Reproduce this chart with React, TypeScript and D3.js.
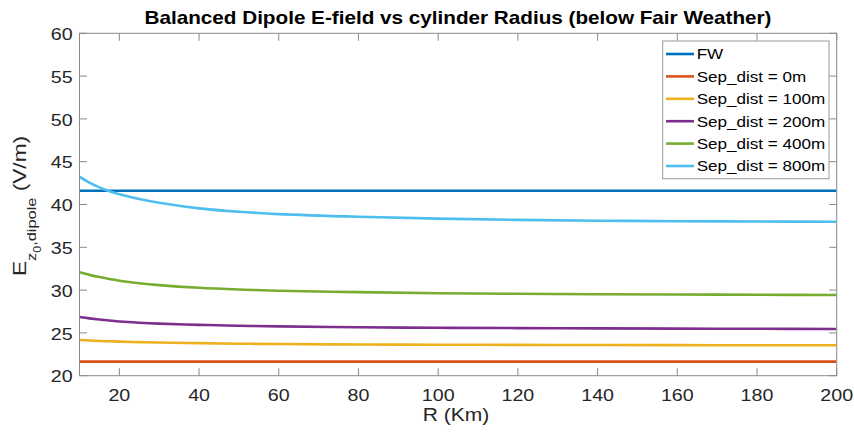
import React from "react";
import * as d3 from "d3";

const R = [10, 12.5, 15, 17.5, 20, 25, 30, 40, 50, 60, 80, 100, 120, 140, 160, 180, 200];
const fw = R.map(() => 41.6);
const sep0 = R.map(() => 21.64);
const sep100 = [24.17, 24.11, 24.06, 24.02, 23.98, 23.92, 23.87, 23.8, 23.74, 23.7, 23.65, 23.62, 23.6, 23.58, 23.57, 23.56, 23.55];
const sep200 = [26.86, 26.7, 26.56, 26.44, 26.34, 26.19, 26.08, 25.94, 25.84, 25.76, 25.66, 25.6, 25.56, 25.53, 25.5, 25.48, 25.46];
const sep400 = [32.08, 31.78, 31.52, 31.3, 31.1, 30.8, 30.58, 30.27, 30.07, 29.93, 29.76, 29.64, 29.57, 29.52, 29.49, 29.46, 29.43];
const sep800 = [43.25, 42.55, 42.0, 41.55, 41.2, 40.65, 40.2, 39.55, 39.15, 38.88, 38.57, 38.35, 38.2, 38.11, 38.05, 38.01, 37.98];

const seriesNames = ["FW", "Sep_dist = 0m", "Sep_dist = 100m", "Sep_dist = 200m", "Sep_dist = 400m", "Sep_dist = 800m"];
const seriesValues = [fw, sep0, sep100, sep200, sep400, sep800];
const seriesColors = ["#0072BD", "#D95319", "#EDB120", "#7E2F8E", "#77AC30", "#4DBEEE"];

const xTicks = [20, 40, 60, 80, 100, 120, 140, 160, 180, 200];
const yTicks = [20, 25, 30, 35, 40, 45, 50, 55, 60];

const title = "Balanced Dipole E-field vs cylinder Radius (below Fair Weather)";
const xLabel = "R (Km)";

const FONT = "'Liberation Sans', Arial, Helvetica, sans-serif";
const SX = 1.17;

const W = 854, H = 435;
const L = 79.5, Rt = 836.7, T = 33.3, B = 375.7;

function ST({ x, y, size, anchor = "start", weight = "normal", fill = "#262626", sx = SX, children }: any) {
  return (
    <text
      transform={`translate(${x},${y}) scale(${sx},1)`}
      fontSize={size}
      textAnchor={anchor}
      fontWeight={weight}
      fill={fill}
      fontFamily={FONT}
    >
      {children}
    </text>
  );
}

export default function App() {
  const x = d3.scaleLinear().domain([10, 200]).range([L, Rt]);
  const y = d3.scaleLinear().domain([20, 60]).range([B, T]);
  const line = d3
    .line<number>()
    .x((_, i) => x(R[i]))
    .y((d) => y(d))
    .curve(d3.curveCatmullRom.alpha(0.5));

  const tickLen = 7.5;
  const axisColor = "#8a8a8a";

  const legX = 662.7, legY = 41, legW = 166.3, legH = 137.7;
  const rowY = (i: number) => 54 + i * 22.4;

  return (
    <svg width={W} height={H} style={{ position: "absolute", left: 0, top: 0, background: "#fff" }}>
      <rect x={0} y={0} width={W} height={H} fill="#fff" />
      <defs>
        <clipPath id="plotclip">
          <rect x={L} y={T} width={Rt - L} height={B - T} />
        </clipPath>
      </defs>

      <g clipPath="url(#plotclip)">
        {seriesValues.map((vals, i) => (
          <path key={i} d={line(vals) || ""} fill="none" stroke={seriesColors[i]} strokeWidth={2.6} />
        ))}
      </g>

      <rect x={L} y={T} width={Rt - L} height={B - T} fill="none" stroke={axisColor} strokeWidth={1} />

      {xTicks.map((t) => (
        <g key={"x" + t}>
          <line x1={x(t)} x2={x(t)} y1={B} y2={B - tickLen} stroke={axisColor} />
          <line x1={x(t)} x2={x(t)} y1={T} y2={T + tickLen} stroke={axisColor} />
          <ST x={x(t)} y={400.5} size={16.8} anchor="middle">{t}</ST>
        </g>
      ))}

      {yTicks.map((t) => (
        <g key={"y" + t}>
          <line x1={L} x2={L + tickLen} y1={y(t)} y2={y(t)} stroke={axisColor} />
          <line x1={Rt} x2={Rt - tickLen} y1={y(t)} y2={y(t)} stroke={axisColor} />
          <ST x={72.7} y={y(t) + 6.6} size={16.8} anchor="end">{t}</ST>
        </g>
      ))}

      <ST x={458} y={24} size={18} anchor="middle" weight="bold" fill="#000" sx={1.15}>{title}</ST>

      <ST x={456} y={421} size={18} anchor="middle">{xLabel}</ST>

      <text
        transform={`translate(25.5,206) rotate(-90) scale(1.26,1)`}
        fontFamily={FONT}
        fill="#262626"
        textAnchor="middle"
        fontSize={18}
      >
        <tspan fontSize={18}>E</tspan>
        <tspan fontSize={13} dy={10}>z</tspan>
        <tspan fontSize={10} dy={6}>0</tspan>
        <tspan fontSize={13} dy={-6}>,dipole</tspan>
        <tspan fontSize={18} dy={-10}> (V/m)</tspan>
      </text>

      <rect x={legX} y={legY} width={legW} height={legH} fill="#fff" stroke="#9a9a9a" strokeWidth={1} />
      {seriesNames.map((n, i) => (
        <g key={"l" + i}>
          <line x1={666} x2={694} y1={rowY(i)} y2={rowY(i)} stroke={seriesColors[i]} strokeWidth={2.6} />
          <ST x={696.7} y={rowY(i) + 5.3} size={14.6} fill="#000">{n}</ST>
        </g>
      ))}
    </svg>
  );
}
